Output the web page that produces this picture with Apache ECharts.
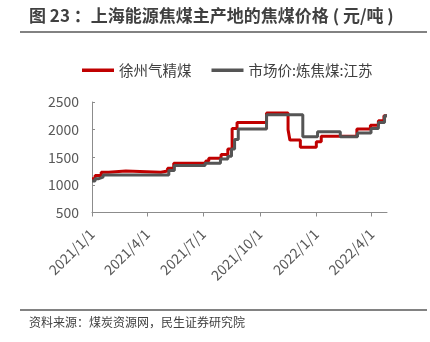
<!DOCTYPE html>
<html>
<head>
<meta charset="utf-8">
<script src="https://cdn.jsdelivr.net/npm/echarts@6/dist/echarts.min.js"></script>
<style>
html,body{margin:0;padding:0;background:#fff;}
#chart{width:430px;height:342px;}
</style>
</head>
<body>
<div id="chart"></div>
<script>
// ---- data (change points of the step series) ----
const redName = '徐州气精煤';
const grayName = '市场价:炼焦煤:江苏';
const redDates = ['2021-01-01','2021-01-06','2021-01-16','2021-01-28','2021-02-25','2021-04-23','2021-05-04','2021-05-14','2021-07-05','2021-07-10','2021-07-30','2021-08-10','2021-08-17','2021-08-25','2021-10-12','2021-11-16','2021-11-19','2021-12-06','2022-01-01','2022-01-09','2022-03-08','2022-03-30','2022-04-12','2022-04-21','2022-04-26'];
const redValues = [1110,1170,1230,1250,1230,1250,1300,1390,1430,1480,1550,1650,2020,2130,2300,2000,1810,1680,1780,1880,2010,2080,2160,2250,2260];
const grayDates = ['2021-01-01','2021-01-06','2021-01-11','2021-01-19','2021-05-06','2021-05-15','2021-07-04','2021-07-29','2021-08-10','2021-08-16','2021-08-21','2021-08-27','2021-10-12','2021-12-10','2022-01-03','2022-02-09','2022-03-09','2022-03-31','2022-04-12','2022-04-22','2022-04-26'];
const grayValues = [1070,1110,1140,1180,1260,1350,1390,1470,1520,1650,1820,2010,2270,1870,1960,1870,1940,2020,2130,2250,2250];
const xTickLabels = ['2021/1/1','2021/4/1','2021/7/1','2021/10/1','2022/1/1','2022/4/1'];
const yMin = 500, yMax = 2500, yStep = 500;
const xStart = '2021-01-01', xEnd = '2022-04-26';

const title = '图 23 ：上海能源焦煤主产地的焦煤价格 ( 元/吨 )';
const source = '资料来源：煤炭资源网，民生证券研究院';

const DAY = 86400000;
function toDay(s){ const p = s.split(/[-\/]/).map(Number); return Math.round(Date.UTC(p[0], p[1]-1, p[2]) / DAY); }
function pairs(d, v){ return d.map((x,i)=>[toDay(x), v[i]]); }
const tickDays = xTickLabels.map(toDay);

const chart = echarts.init(document.getElementById('chart'), null, {renderer:'canvas'});
const FONT = '"Noto Sans CJK SC","Noto Sans",sans-serif';
chart.setOption({
  animation:false,
  backgroundColor:'#fff',
  textStyle:{fontFamily:FONT},
  grid:{left:92, right:43, top:102, bottom:129.5, containLabel:false},
  legend:{
    left:82, top:63, padding:0, itemWidth:32, itemHeight:3.5, itemGap:20, icon:'rect',
    textStyle:{fontSize:14.5, color:'#404040', fontFamily:FONT},
    data:[redName, grayName]
  },
  xAxis:{
    type:'value', min:toDay(xStart), max:toDay(xEnd),
    axisLine:{lineStyle:{color:'#8c8c8c', width:1}},
    axisTick:{show:true, length:4, customValues:tickDays, lineStyle:{color:'#8c8c8c'}},
    axisLabel:{
      customValues:tickDays, rotate:45, margin:19, fontSize:14, color:'#595959', fontFamily:FONT,
      formatter:function(v){ const i = tickDays.indexOf(Math.round(v)); return i >= 0 ? xTickLabels[i] : ''; }
    },
    splitLine:{show:false}
  },
  yAxis:{
    type:'value', min:yMin, max:yMax, interval:yStep,
    axisLine:{show:true, lineStyle:{color:'#8c8c8c', width:1}},
    axisTick:{show:true, inside:true, length:3, lineStyle:{color:'#8c8c8c'}},
    axisLabel:{fontSize:14, color:'#595959', margin:13, fontFamily:FONT, formatter:function(v){ return String(v); }},
    splitLine:{show:false}
  },
  series:[
    {name:redName, type:'line', step:'end', showSymbol:false, data:pairs(redDates, redValues),
     lineStyle:{color:'#C00000', width:3}, itemStyle:{color:'#C00000'}},
    {name:grayName, type:'line', step:'end', showSymbol:false, data:pairs(grayDates, grayValues),
     lineStyle:{color:'#555555', width:3}, itemStyle:{color:'#555555'}}
  ],
  graphic:[
    {type:'text', left:29, top:7, style:{text:title, font:'bold 17px '+FONT, fill:'#404040'}},
    {type:'line', shape:{x1:20,y1:32,x2:427,y2:32}, style:{stroke:'#595959', lineWidth:1.5}},
    {type:'line', shape:{x1:20,y1:310,x2:427,y2:310}, style:{stroke:'#595959', lineWidth:1.5}},
    {type:'text', left:29, top:316, style:{text:source, font:'12px '+FONT, fill:'#404040'}}
  ]
});
</script>
</body>
</html>
